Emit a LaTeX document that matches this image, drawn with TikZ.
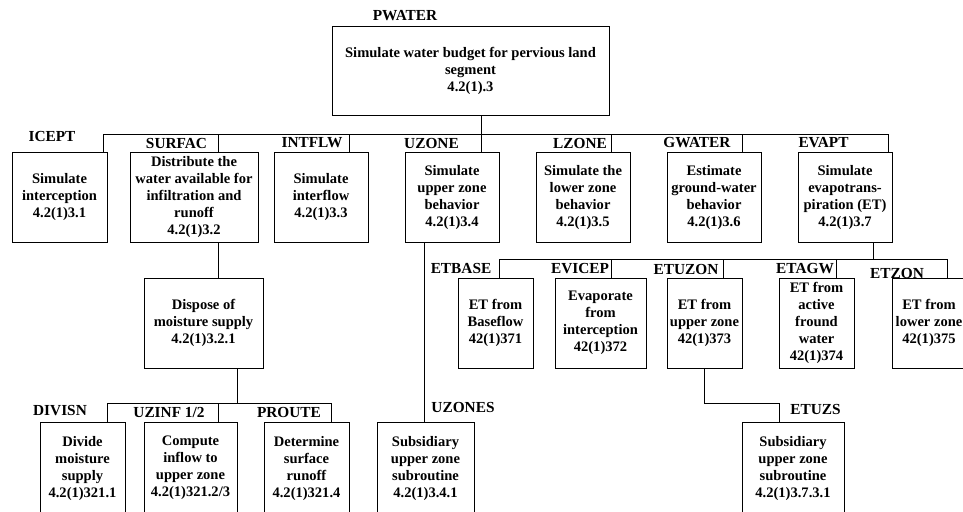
\documentclass[tikz,border=0pt]{standalone}
\usepackage{fontspec}
\setmainfont{Liberation Serif}
\begin{document}
\begin{tikzpicture}[x=0.75pt,y=-0.75pt,
  txt/.style={font=\fontsize{10.9}{12.75}\selectfont\bfseries},
  box/.style 2 args={draw, line width=0.7pt, txt, align=center, inner sep=0pt,
    minimum width=#1*0.75pt, minimum height=#2*0.75pt},
  lbl/.style={font=\fontsize{11.5}{13}\selectfont\bfseries, inner sep=0pt},
  conn/.style={line width=0.7pt}]
\clip (0,0) rectangle (963,511);
\fill[white] (0,0) rectangle (963,511);

% top
\node[box={277}{89}] (pw) at (470.5,70.5) {Simulate water budget for pervious land\\segment\\4.2(1).3};
\node[lbl] (lpw) at (405,16) {PWATER};

% level 1
\node[box={95}{90}] (icept) at (59.5,197) {Simulate\\interception\\4.2(1)3.1};
\node[box={128}{90}] (surfac) at (194,197) {Distribute the\\water available for\\infiltration and\\runoff\\4.2(1)3.2};
\node[box={94}{90}] (intflw) at (321,197) {Simulate\\interflow\\4.2(1)3.3};
\node[box={94}{90}] (uzone) at (452,197) {Simulate\\upper zone\\behavior\\4.2(1)3.4};
\node[box={94}{90}] (lzone) at (583,197) {Simulate the\\lower zone\\behavior\\4.2(1)3.5};
\node[box={94}{90}] (gwater) at (714,197) {Estimate\\ground-water\\behavior\\4.2(1)3.6};
\node[box={94}{90}] (evapt) at (845,197) {Simulate\\evapotrans-\\piration (ET)\\4.2(1)3.7};

\node[lbl] (licept) at (52,136) {ICEPT};
\node[lbl] (lsurfac) at (176.5,143) {SURFAC};
\node[lbl] (lintflw) at (312,143) {INTFLW};
\node[lbl] (luzone) at (431.5,143) {UZONE};
\node[lbl] (llzone) at (580,143) {LZONE};
\node[lbl] (lgwater) at (697,143) {GWATER};
\node[lbl] (levapt) at (823.5,143) {EVAPT};

% level 2 left
\node[box={119}{90}] (dispose) at (203.5,323) {Dispose of\\moisture supply\\4.2(1)3.2.1};

% level 2 right
\node[box={75}{90}] (etbase) at (495.5,323) {ET from\\Baseflow\\42(1)371};
\node[box={91}{90}] (evicep) at (600.5,323) {Evaporate\\from\\interception\\42(1)372};
\node[box={75}{90}] (etuzon) at (704.5,323) {ET from\\upper zone\\42(1)373};
\node[box={75}{90}] (etagw) at (816.5,323) {ET from\\active\\fround\\water\\42(1)374};
\node[box={74}{90}] (etzon) at (929,323) {ET from\\lower zone\\42(1)375};

\node[lbl] (letbase) at (461,268) {ETBASE};
\node[lbl] (levicep) at (580,269) {EVICEP};
\node[lbl] (letuzon) at (686,269) {ETUZON};
\node[lbl] (letagw) at (805,269) {ETAGW};
\node[lbl] (letzon) at (897,273) {ETZON};

% level 3
\node[box={85}{92}] (divisn) at (82.5,468) {Divide\\moisture\\supply\\4.2(1)321.1};
\node[box={93}{92}] (uzinf) at (190.5,468) {Compute\\inflow to\\upper zone\\4.2(1)321.2/3};
\node[box={85}{92}] (proute) at (306.5,468) {Determine\\surface\\runoff\\4.2(1)321.4};
\node[box={97}{92}] (uzones) at (425.5,468) {Subsidiary\\upper zone\\subroutine\\4.2(1)3.4.1};
\node[box={102}{92}] (etuzs) at (793,468) {Subsidiary\\upper zone\\subroutine\\4.2(1)3.7.3.1};

\node[lbl] (ldivisn) at (60,411) {DIVISN};
\node[lbl] (luzinf) at (169,412) {UZINF 1/2};
\node[lbl] (lproute) at (289,412) {PROUTE};
\node[lbl] (luzones) at (463,407) {UZONES};
\node[lbl] (letuzs) at (815.5,409) {ETUZS};

% level-1 bus
\coordinate (a1) at (103,134);
\coordinate (a2) at (218,134);
\coordinate (a3) at (349,134);
\coordinate (a4) at (481,134);
\coordinate (a5) at (611,134);
\coordinate (a6) at (742,134);
\coordinate (a7) at (888,134);
\draw[conn] (a4 |- pw.south) -- (a4 |- uzone.north);
\draw[conn] (a1 |- icept.north) -- (a1) -- (a7) -- (a7 |- evapt.north);
\draw[conn] (a2) -- (a2 |- surfac.north);
\draw[conn] (a3) -- (a3 |- intflw.north);
\draw[conn] (a5) -- (a5 |- lzone.north);
\draw[conn] (a6) -- (a6 |- gwater.north);

% surfac -> dispose
\coordinate (s1) at (218,300);
\draw[conn] (s1 |- surfac.south) -- (s1 |- dispose.north);

% dispose -> level 3
\coordinate (b0) at (237,403);
\coordinate (b1) at (107,403);
\coordinate (b2) at (218,403);
\coordinate (b3) at (331,403);
\draw[conn] (b0 |- dispose.south) -- (b0);
\draw[conn] (b1 |- divisn.north) -- (b1) -- (b3) -- (b3 |- proute.north);
\draw[conn] (b2) -- (b2 |- uzinf.north);

% uzone -> uzones
\coordinate (u1) at (424,300);
\draw[conn] (u1 |- uzone.south) -- (u1 |- uzones.north);

% evapt -> level 2
\coordinate (e0) at (873,259);
\coordinate (e1) at (499,259);
\coordinate (e2) at (611,259);
\coordinate (e3) at (723,259);
\coordinate (e4) at (836,259);
\coordinate (e5) at (947,259);
\draw[conn] (e0 |- evapt.south) -- (e0);
\draw[conn] (e1 |- etbase.north) -- (e1) -- (e5) -- (e5 |- etzon.north);
\draw[conn] (e2) -- (e2 |- evicep.north);
\draw[conn] (e3) -- (e3 |- etuzon.north);
\draw[conn] (e4) -- (e4 |- etagw.north);

% etuzon -> etuzs
\coordinate (t0) at (704,403);
\coordinate (t1) at (779,403);
\draw[conn] (t0 |- etuzon.south) -- (t0) -- (t1) -- (t1 |- etuzs.north);
\end{tikzpicture}
\end{document}
